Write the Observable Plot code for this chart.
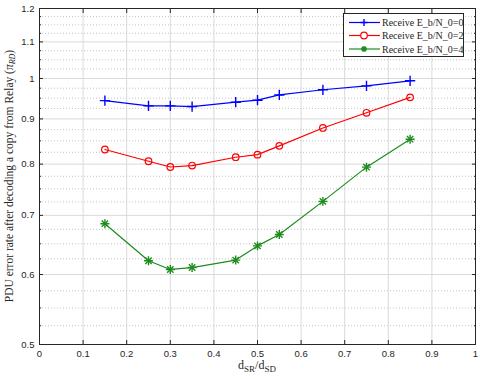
<!DOCTYPE html>
<html><head><meta charset="utf-8">
<script src="https://cdn.jsdelivr.net/npm/d3@7"></script>
<script src="https://cdn.jsdelivr.net/npm/@observablehq/plot@0.6"></script>
<style>body{margin:0;background:#fff} svg{display:block}</style>
</head><body><div id="chart"></div>
<script>
const ratio = [0.15, 0.25, 0.3, 0.35, 0.45, 0.5, 0.55, 0.65, 0.75, 0.85];
const per0 = [0.944, 0.931, 0.931, 0.9295, 0.940, 0.945, 0.958, 0.971, 0.981, 0.994];
const per2 = [0.831, 0.806, 0.794, 0.797, 0.8145, 0.820, 0.839, 0.879, 0.9145, 0.952];
const per4 = [0.685, 0.622, 0.608, 0.611, 0.623, 0.6465, 0.666, 0.726, 0.7937, 0.8537];
const seriesNames = ["Receive E_b/N_0=0", "Receive E_b/N_0=2", "Receive E_b/N_0=4"];
const seriesColors = ["#0000ff", "#ff0000", "#1d8c1d"];
const xTicks = [0, 0.1, 0.2, 0.3, 0.4, 0.5, 0.6, 0.7, 0.8, 0.9, 1];
const yTicks = [0.5, 0.6, 0.7, 0.8, 0.9, 1, 1.1, 1.2];
const yMinor = [0.525, 0.55, 0.575, 0.625, 0.65, 0.675, 0.725, 0.75, 0.775, 0.825, 0.85, 0.875,
                0.925, 0.95, 0.975, 1.025, 1.05, 1.075, 1.125, 1.15, 1.175];

const allSeries = [per0, per2, per4];
const data = allSeries.flatMap((vals, k) => ratio.map((x, i) => ({x, y: vals[i], s: seriesNames[k]})));
const d0 = data.filter(d => d.s === seriesNames[0]);
const d1 = data.filter(d => d.s === seriesNames[1]);
const d2 = data.filter(d => d.s === seriesNames[2]);

const fmt = d => String(+d.toFixed(2));
const blank = () => "";

const svg = Plot.plot({
  width: 480, height: 379,
  marginLeft: 39, marginRight: 5, marginTop: 8, marginBottom: 35,
  x: {domain: [0, 1]},
  y: {type: "log", domain: [0.5, 1.2]},
  color: {domain: seriesNames, range: seriesColors},
  style: {fontFamily: "'Liberation Sans', Arial, sans-serif", fontSize: "9.5px", color: "#262626", background: "white"},
  marks: [
    Plot.ruleX(xTicks.slice(1, -1), {stroke: "#dadada", strokeWidth: 1}),
    Plot.ruleY(yMinor, {stroke: "#c4c4c4", strokeDasharray: "1,2", strokeWidth: 1}),
    Plot.ruleY(yTicks.slice(1, -1), {stroke: "#dadada", strokeWidth: 1}),
    Plot.line(data, {x: "x", y: "y", z: "s", stroke: "s", strokeWidth: 1.2}),
    Plot.dot(d0, {x: "x", y: "y", symbol: "plus", stroke: "s", r: 3.4, strokeWidth: 1.4}),
    Plot.dot(d1, {x: "x", y: "y", symbol: "circle", stroke: "s", fill: "none", r: 3.3, strokeWidth: 1.2}),
    Plot.dot(d2, {x: "x", y: "y", symbol: "plus", stroke: "s", r: 3.0, strokeWidth: 1.4}),
    Plot.dot(d2, {x: "x", y: "y", symbol: "times", stroke: "s", r: 3.0, strokeWidth: 1.4}),
    Plot.frame({stroke: "#262626"}),
    Plot.axisX({ticks: xTicks, tickSize: -4, tickPadding: 10, tickFormat: fmt, label: null}),
    Plot.axisX({anchor: "top", ticks: xTicks, tickSize: -4, tickFormat: blank, label: null}),
    Plot.axisY({ticks: yTicks, tickSize: -4, tickPadding: 9, tickFormat: fmt, label: null}),
    Plot.axisY({anchor: "right", ticks: yTicks, tickSize: -4, tickFormat: blank, label: null}),
    Plot.axisY({ticks: yMinor, tickSize: -2, tickFormat: blank, label: null}),
    Plot.axisY({anchor: "right", ticks: yMinor, tickSize: -2, tickFormat: blank, label: null})
  ]
});
document.getElementById("chart").appendChild(svg);

const s = d3.select(svg);
const serif = "'Liberation Serif', 'Times New Roman', serif";

// Y axis label
const yl = s.append("text")
  .attr("transform", "translate(13,176) rotate(-90)")
  .attr("text-anchor", "middle")
  .attr("font-family", serif).attr("font-size", 11.5).attr("fill", "#262626");
yl.append("tspan").text("PDU error rate after decoding a copy from Relay (");
yl.append("tspan").attr("font-style", "italic").text("π");
yl.append("tspan").attr("font-style", "italic").attr("font-size", 8).attr("dy", 2).text("RD");
yl.append("tspan").attr("dy", -2).text(")");

// X axis label
const xl = s.append("text")
  .attr("x", 257).attr("y", 369)
  .attr("text-anchor", "middle")
  .attr("font-family", serif).attr("font-size", 12).attr("fill", "#262626");
xl.append("tspan").text("d");
xl.append("tspan").attr("font-size", 9).attr("dy", 3).text("SR");
xl.append("tspan").attr("dy", -3).text("/d");
xl.append("tspan").attr("font-size", 9).attr("dy", 3).text("SD");

// Legend
const lg = s.append("g");
lg.append("rect").attr("x", 343.5).attr("y", 13.5).attr("width", 120).attr("height", 43)
  .attr("fill", "white").attr("stroke", "#262626");
const ly = [22.5, 35.5, 49];
seriesNames.forEach((name, i) => {
  const c = seriesColors[i], y = ly[i];
  lg.append("line").attr("x1", 349).attr("x2", 380).attr("y1", y).attr("y2", y).attr("stroke", c).attr("stroke-width", 1.2);
  if (i === 0) {
    lg.append("path").attr("d", `M360.5,${y}h7M364,${y-3.5}v7`).attr("stroke", c).attr("stroke-width", 1.4);
  } else if (i === 1) {
    lg.append("circle").attr("cx", 364).attr("cy", y).attr("r", 3.3).attr("fill", "white").attr("stroke", c).attr("stroke-width", 1.2);
  } else {
    lg.append("path").attr("d", `M361,${y}h6M364,${y-3}v6M361.8,${y-2.2}l4.4,4.4M361.8,${y+2.2}l4.4,-4.4`).attr("stroke", c).attr("stroke-width", 1.4);
  }
  lg.append("text").attr("x", 382).attr("y", y + 3.5).attr("text-anchor", "start")
    .attr("font-family", serif).attr("font-size", 10).attr("fill", "#262626").text(name);
});
</script>
</body></html>
